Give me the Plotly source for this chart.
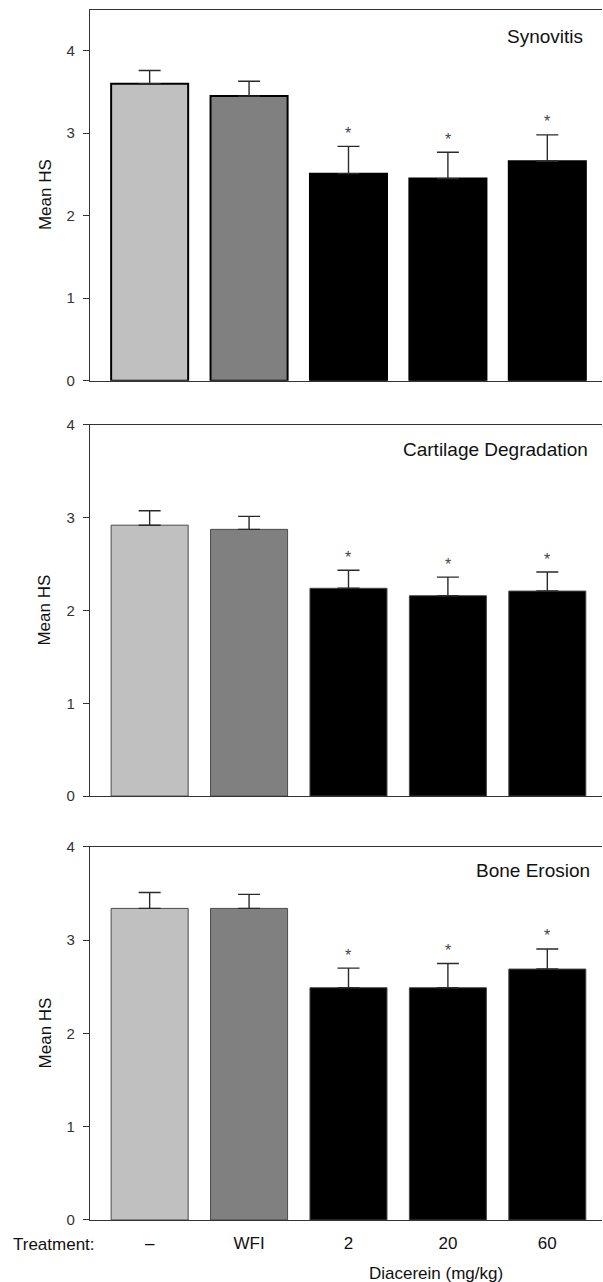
import plotly.graph_objects as go

categories = ["–", "WFI", "2", "20", "60"]
positions = [0, 1, 2, 3, 4]
bar_colors = ["#c0c0c0", "#808080", "#000000", "#000000", "#000000"]

syn_mean = [3.60, 3.45, 2.51, 2.45, 2.66]
syn_err = [0.16, 0.18, 0.33, 0.32, 0.32]
cart_mean = [2.92, 2.875, 2.24, 2.16, 2.21]
cart_err = [0.155, 0.14, 0.195, 0.20, 0.205]
bone_mean = [3.34, 3.34, 2.49, 2.49, 2.69]
bone_err = [0.17, 0.15, 0.21, 0.26, 0.215]
significant = [False, False, True, True, True]

panel_titles = ["Synovitis", "Cartilage Degradation", "Bone Erosion"]
y_ranges = [[0, 4.5], [0, 4], [0, 4]]

W, H = 603, 1298
ML, MR = 90, 1
PW = W - ML - MR
# layout positions in reference pixel coordinates
panel_px = [(9, 380), (424.3, 795.3), (846, 1219)]
title_px = [(585, 35.7), (590, 449.3), (592, 869.3)]
outline = [dict(color="#000000", width=2), dict(color="#4a4a4a", width=1), dict(color="#4a4a4a", width=1)]

FONT = "Liberation Sans, Arial, sans-serif"
fig = go.Figure()
means = [syn_mean, cart_mean, bone_mean]
errs = [syn_err, cart_err, bone_err]

def page_y(p):
    return (p - 8.5) / 0.9865

def py(p):
    return 1 - page_y(p) / H

def px(p):
    return (p - ML) / PW

for i in range(3):
    ax = "" if i == 0 else str(i + 1)
    fig.add_trace(go.Bar(
        x=positions, y=means[i], width=0.775,
        marker=dict(color=bar_colors, line=outline[i]),
        error_y=dict(type="data", symmetric=False, array=errs[i],
                     arrayminus=[0] * 5, color="#2a2a2a", thickness=1.4, width=11),
        xaxis="x" + ax, yaxis="y" + ax, showlegend=False,
    ))
    top, bot = panel_px[i]
    fig.layout["xaxis" + ax] = dict(
        domain=[0, 1], range=[-0.6, 4.55], anchor="y" + ax,
        showline=True, linecolor="#333333", linewidth=1.2, mirror=True,
        showgrid=False, zeroline=False, ticks="",
        tickvals=positions, ticktext=categories,
        showticklabels=(i == 2), ticklabelstandoff=8,
        tickfont=dict(family=FONT, size=17, color="#111111"),
    )
    fig.layout["yaxis" + ax] = dict(
        domain=[py(bot), py(top)], range=y_ranges[i], anchor="x" + ax,
        showline=True, linecolor="#333333", linewidth=1.2,
        showgrid=False, zeroline=False, ticks="outside", ticklen=6,
        tickcolor="#333333", tickwidth=1.2,
        tickvals=[0, 1, 2, 3, 4], ticklabelstandoff=5,
        tickfont=dict(family=FONT, size=15, color="#333333"),
    )
    tx, ty = title_px[i]
    fig.add_annotation(text=panel_titles[i], xref="paper", yref="paper",
                       x=px(tx), y=py(ty), xanchor="right", yanchor="middle",
                       showarrow=False, font=dict(family=FONT, size=19, color="#111111"))
    fig.add_annotation(text="Mean HS", xref="paper", yref="paper",
                       x=px(45), y=py((top + bot) / 2), xanchor="center", yanchor="middle",
                       textangle=-90, showarrow=False,
                       font=dict(family=FONT, size=17, color="#111111"))
    for k in range(5):
        if significant[k]:
            fig.add_annotation(text="*", x=positions[k], y=means[i][k] + errs[i][k],
                               xref="x" + ax, yref="y" + ax, yanchor="middle",
                               yshift=13, showarrow=False,
                               font=dict(family=FONT, size=16, color="#444444"))

fig.add_annotation(text="Treatment:", xref="paper", yref="paper",
                   x=px(11), y=py(1243), xanchor="left", yanchor="middle",
                   showarrow=False, font=dict(family=FONT, size=17, color="#111111"))
fig.add_annotation(text="Diacerein (mg/kg)", xref="paper", yref="paper",
                   x=px(436), y=py(1272), xanchor="center", yanchor="middle",
                   showarrow=False, font=dict(family=FONT, size=17, color="#111111"))

fig.update_layout(width=W, height=H, margin=dict(l=ML, r=MR, t=0, b=0),
                  paper_bgcolor="white", plot_bgcolor="white", bargap=0.2)

reset_js = (
    "document.documentElement.style.margin='0';"
    "document.documentElement.style.padding='0';"
    "document.documentElement.style.overflow='hidden';"
    "document.body.style.margin='0';"
    "document.body.style.padding='0';"
    "document.body.style.overflow='hidden';"
    "var gd=document.getElementById('{plot_id}');"
    "gd.style.position='fixed';gd.style.top='0px';gd.style.left='0px';"
)
fig.write_html("out.html", config={"displayModeBar": False}, post_script=reset_js)
